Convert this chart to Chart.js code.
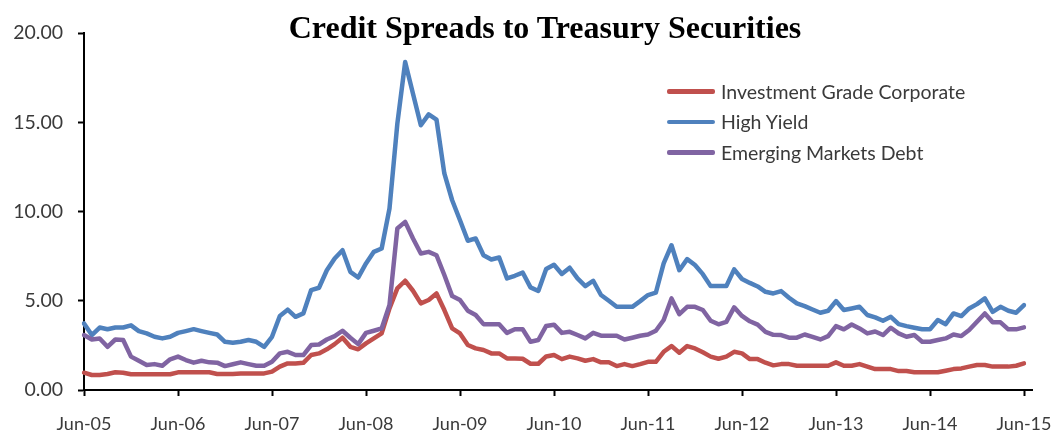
<!DOCTYPE html>
<html>
<head>
<meta charset="utf-8">
<title>Credit Spreads to Treasury Securities</title>
<script src="https://cdn.jsdelivr.net/npm/chart.js@4.4.1/dist/chart.umd.min.js"></script>
<style>
  html, body { margin: 0; padding: 0; background: #fff; }
  #wrap { position: relative; width: 1057px; height: 432px; }
  #title {
    position: absolute; left: 245px; width: 600px; top: 9px;
    text-align: center; color: #000;
    font: bold 32px "Liberation Serif", "Times New Roman", serif;
  }
  #legend { position: absolute; left: 667px; top: 76px; color: #3a3a3a; font: 19.5px Lato, sans-serif; }
  #legend .item { display: flex; align-items: center; height: 30.5px; }
  #legend .swatch { width: 48px; height: 4.5px; border-radius: 2px; margin-right: 6px; }
</style>
</head>
<body>
<div id="wrap">
  <canvas id="spreadChart" width="1057" height="432"></canvas>
  <div id="title">Credit Spreads to Treasury Securities</div>
  <div id="legend"></div>
</div>
<script>
// month-end spreads over Treasuries, Jun-05 .. Jun-15 (percent)
const MONTHS = ['Jan', 'Feb', 'Mar', 'Apr', 'May', 'Jun', 'Jul', 'Aug', 'Sep', 'Oct', 'Nov', 'Dec'];
const categories = [];
for (let i = 0; i <= 120; i++) {
    const m = (5 + i) % 12;
    const yr = 5 + Math.floor((5 + i) / 12);
    categories.push(MONTHS[m] + '-' + String(yr).padStart(2, '0'));
}

const xTickLabels = ['Jun-05', 'Jun-06', 'Jun-07', 'Jun-08', 'Jun-09', 'Jun-10',
                     'Jun-11', 'Jun-12', 'Jun-13', 'Jun-14', 'Jun-15'];
const yTicks = [0, 5, 10, 15, 20];

const investmentGrade = [
    0.97, 0.84, 0.84, 0.90, 0.99, 0.97, 0.88, 0.88, 0.88, 0.88, 0.88, 0.88,
    0.99, 0.99, 0.99, 0.99, 0.99, 0.90, 0.90, 0.90, 0.92, 0.93, 0.93, 0.93,
    1.03, 1.31, 1.49, 1.49, 1.52, 1.96, 2.05, 2.28, 2.57, 2.93, 2.42, 2.28,
    2.61, 2.89, 3.17, 4.57, 5.69, 6.12, 5.56, 4.85, 5.04, 5.41, 4.48, 3.45,
    3.17, 2.52, 2.33, 2.24, 2.05, 2.05, 1.77, 1.77, 1.75, 1.47, 1.47, 1.88,
    1.96, 1.73, 1.87, 1.77, 1.64, 1.73, 1.55, 1.55, 1.34, 1.45, 1.34, 1.45,
    1.58, 1.58, 2.14, 2.46, 2.09, 2.46, 2.33, 2.11, 1.87, 1.75, 1.87, 2.14,
    2.05, 1.73, 1.73, 1.53, 1.38, 1.45, 1.45, 1.36, 1.36, 1.36, 1.36, 1.36,
    1.55, 1.36, 1.36, 1.45, 1.31, 1.17, 1.17, 1.17, 1.06, 1.06, 0.99, 0.99,
    0.99, 0.99, 1.08, 1.17, 1.21, 1.31, 1.40, 1.40, 1.31, 1.31, 1.31, 1.36,
    1.49
];

const highYield = [
    3.73, 3.08, 3.50, 3.40, 3.50, 3.50, 3.62, 3.30, 3.17, 2.98, 2.89, 2.98,
    3.20, 3.30, 3.41, 3.30, 3.20, 3.11, 2.70, 2.65, 2.70, 2.80, 2.70, 2.42,
    2.98, 4.15, 4.50, 4.10, 4.29, 5.60, 5.73, 6.71, 7.37, 7.83, 6.62, 6.30,
    7.09, 7.74, 7.93, 10.17, 14.92, 18.37, 16.60, 14.83, 15.44, 15.15, 12.13, 10.63,
    9.51, 8.36, 8.49, 7.55, 7.31, 7.42, 6.25, 6.40, 6.58, 5.75, 5.55, 6.78,
    7.02, 6.50, 6.85, 6.25, 5.82, 6.12, 5.32, 5.00, 4.66, 4.66, 4.66, 4.98,
    5.32, 5.45, 7.09, 8.11, 6.71, 7.33, 7.00, 6.49, 5.82, 5.82, 5.82, 6.76,
    6.22, 6.00, 5.80, 5.50, 5.41, 5.54, 5.17, 4.85, 4.70, 4.51, 4.33, 4.44,
    4.98, 4.48, 4.57, 4.66, 4.20, 4.07, 3.88, 4.10, 3.69, 3.58, 3.49, 3.40,
    3.40, 3.92, 3.69, 4.29, 4.14, 4.57, 4.81, 5.13, 4.38, 4.66, 4.44, 4.33,
    4.76
];

const emergingMarkets = [
    3.08, 2.83, 2.89, 2.42, 2.83, 2.80, 1.87, 1.64, 1.40, 1.45, 1.36, 1.72,
    1.87, 1.68, 1.53, 1.64, 1.55, 1.53, 1.34, 1.44, 1.55, 1.45, 1.36, 1.36,
    1.58, 2.05, 2.14, 1.96, 1.96, 2.52, 2.55, 2.83, 3.02, 3.32, 2.93, 2.57,
    3.20, 3.32, 3.45, 4.76, 9.05, 9.42, 8.49, 7.65, 7.74, 7.55, 6.44, 5.26,
    5.04, 4.44, 4.20, 3.69, 3.69, 3.69, 3.20, 3.40, 3.40, 2.70, 2.80, 3.59,
    3.66, 3.20, 3.26, 3.08, 2.89, 3.20, 3.04, 3.04, 3.04, 2.83, 2.93, 3.04,
    3.11, 3.32, 3.92, 5.13, 4.25, 4.66, 4.66, 4.48, 3.88, 3.68, 3.82, 4.63,
    4.15, 3.85, 3.66, 3.26, 3.09, 3.08, 2.93, 2.93, 3.11, 2.98, 2.83, 3.02,
    3.58, 3.40, 3.67, 3.45, 3.17, 3.28, 3.08, 3.49, 3.17, 2.98, 3.08, 2.70,
    2.70, 2.80, 2.89, 3.11, 3.02, 3.36, 3.82, 4.29, 3.79, 3.79, 3.40, 3.40,
    3.51
];

const seriesNames = ['Investment Grade Corporate', 'High Yield', 'Emerging Markets Debt'];
const seriesColors = ['#C0504D', '#4F81BD', '#8064A2'];
const seriesData = [investmentGrade, highYield, emergingMarkets];

const labelColor = '#3a3a3a';

const datasets = seriesData.map((data, i) => ({
    label: seriesNames[i],
    data: data,
    borderColor: seriesColors[i],
    backgroundColor: seriesColors[i],
    borderWidth: 4.5,
    pointRadius: 0,
    fill: false,
    tension: 0,
    // later series sit on top
    order: seriesData.length - i
}));

// the category axis line runs a few px past the last month
const axisTail = {
    id: 'axisTail',
    afterDraw(chart) {
        const { ctx, chartArea } = chart;
        ctx.save();
        ctx.strokeStyle = '#000';
        ctx.lineWidth = 2;
        ctx.beginPath();
        ctx.moveTo(chartArea.right, chartArea.bottom);
        ctx.lineTo(chartArea.right + 9, chartArea.bottom);
        ctx.stroke();
        ctx.restore();
    }
};

new Chart(document.getElementById('spreadChart'), {
    type: 'line',
    data: { labels: categories, datasets: datasets },
    plugins: [axisTail],
    options: {
        responsive: false,
        animation: false,
        layout: { padding: { top: 33, right: 33, bottom: 0, left: 0 } },
        plugins: {
            legend: { display: false },
            tooltip: { enabled: false }
        },
        elements: { line: { borderJoinStyle: 'round', borderCapStyle: 'round' } },
        scales: {
            x: {
                offset: false,
                ticks: {
                    autoSkip: false,
                    maxRotation: 0,
                    padding: 17,
                    color: labelColor,
                    font: { family: 'Lato, sans-serif', size: 18 },
                    callback: (value, index) => {
                        const lbl = categories[index];
                        return xTickLabels.includes(lbl) ? lbl : null;
                    }
                },
                grid: { drawOnChartArea: false, tickLength: 6, color: '#000', tickWidth: 2 },
                border: { color: '#000', width: 2 },
                afterFit: (scale) => {
                    scale.height = 42;
                    // layout padding already leaves room for the end labels
                    scale.paddingLeft = 0;
                    scale.paddingRight = 0;
                }
            },
            y: {
                min: yTicks[0],
                max: yTicks[yTicks.length - 1],
                afterBuildTicks: (scale) => { scale.ticks = yTicks.map(v => ({ value: v })); },
                ticks: {
                    padding: 15,
                    color: labelColor,
                    font: { family: 'Lato, sans-serif', size: 19.5 },
                    callback: (v) => Number(v).toFixed(2)
                },
                grid: { drawOnChartArea: false, tickLength: 6, color: '#000', tickWidth: 2 },
                border: { color: '#000', width: 2 },
                afterFit: (scale) => { scale.width = 84; }
            }
        }
    }
});

// legend block inside the plot, top right
const legend = document.getElementById('legend');
seriesNames.forEach((name, i) => {
    const item = document.createElement('div');
    item.className = 'item';
    const sw = document.createElement('span');
    sw.className = 'swatch';
    sw.style.background = seriesColors[i];
    const txt = document.createElement('span');
    txt.textContent = name;
    item.appendChild(sw);
    item.appendChild(txt);
    legend.appendChild(item);
});
</script>
</body>
</html>
